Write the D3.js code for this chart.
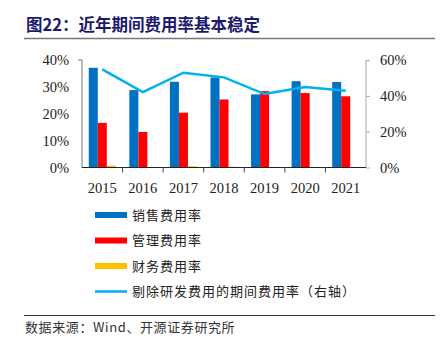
<!DOCTYPE html>
<html>
<head>
<meta charset="utf-8">
<script src="https://cdn.jsdelivr.net/npm/d3@7"></script>
<style>
  body { margin: 0; background: #fff; }
  svg { display: block; }
  .tick text { font-family: "Liberation Serif", serif; font-size: 14.5px; fill: #222; }
  .cjk { font-family: "Noto Sans CJK SC", sans-serif; }
</style>
</head>
<body>
<div id="chart"></div>
<script>
// --- data ---
const years = ["2015", "2016", "2017", "2018", "2019", "2020", "2021"];
const salesRate = [37.1, 28.8, 31.9, 33.5, 27.2, 32.1, 31.8];
const adminRate = [16.6, 13.2, 20.4, 25.3, 28.4, 27.7, 26.5];
const financeRate = [0.7, 0.1, 0.5, 0.3, 0.2, 0.2, 0.1];
const exRdRate = [54.8, 42.1, 52.9, 50.3, 41.0, 44.9, 42.8];
const leftTicks = [0, 10, 20, 30, 40];
const rightTicks = [0, 20, 40, 60];

const barSeries = [
  { name: "销售费用率", values: salesRate, color: "#0070C0" },
  { name: "管理费用率", values: adminRate, color: "#FF0000" },
  { name: "财务费用率", values: financeRate, color: "#FFC000" }
];
const lineSeries = { name: "剔除研发费用的期间费用率（右轴）", values: exRdRate, color: "#00B0F0" };

const W = 448, H = 345;
const plot = { left: 82, right: 366, top: 60, bottom: 167.5 };

const svg = d3.select("#chart").append("svg").attr("width", W).attr("height", H);

// title + rules
svg.append("text").attr("class", "cjk")
  .attr("x", 26).attr("y", 31)
  .attr("font-size", 16.5).attr("font-weight", "bold").attr("fill", "#1B1A6E")
  .text("图22：近年期间费用率基本稳定");
svg.append("line").attr("x1", 24).attr("x2", 435).attr("y1", 38.5).attr("y2", 38.5)
  .attr("stroke", "#777").attr("stroke-width", 1.5);
svg.append("line").attr("x1", 24).attr("x2", 435).attr("y1", 315.5).attr("y2", 315.5)
  .attr("stroke", "#333").attr("stroke-width", 1);
svg.append("text").attr("class", "cjk")
  .attr("x", 25).attr("y", 332)
  .attr("font-size", 13).attr("fill", "#333").attr("letter-spacing", 0.6)
  .text("数据来源：Wind、开源证券研究所");

// scales
const x = d3.scaleBand().domain(years).range([plot.left, plot.right]);
const xInner = d3.scaleBand().domain(barSeries.map(s => s.name))
  .range([0, x.bandwidth()]).paddingOuter(0.75);
const yL = d3.scaleLinear().domain([0, 40]).range([plot.bottom, plot.top]);
const yR = d3.scaleLinear().domain([0, 60]).range([plot.bottom, plot.top]);

// bars
barSeries.forEach(s => {
  svg.append("g").selectAll("rect").data(s.values).enter().append("rect")
    .attr("x", (d, i) => x(years[i]) + xInner(s.name))
    .attr("width", xInner.bandwidth())
    .attr("y", d => yL(d))
    .attr("height", d => yL(0) - yL(d))
    .attr("fill", s.color);
});

// axes
const gL = svg.append("g").attr("transform", `translate(${plot.left},0)`)
  .call(d3.axisLeft(yL).tickValues(leftTicks).tickFormat(d => d + "%").tickSize(0).tickPadding(13));
gL.select(".domain").attr("stroke", "#777").attr("d", `M0,${plot.top}V${plot.bottom}`);
gL.append("line").attr("x1", -4).attr("x2", 0).attr("y1", plot.top).attr("y2", plot.top).attr("stroke", "#777");

const gR = svg.append("g").attr("transform", `translate(${plot.right},0)`)
  .call(d3.axisRight(yR).tickValues(rightTicks).tickFormat(d => d + "%").tickSize(4).tickPadding(10));
gR.select(".domain").attr("stroke", "#aaa").attr("d", `M0,${plot.top}V${plot.bottom}`);
gR.selectAll(".tick line").attr("stroke", "#aaa");

const gX = svg.append("g").attr("transform", `translate(0,${plot.bottom})`)
  .call(d3.axisBottom(x).tickSize(0).tickPadding(15));
gX.select(".domain").attr("stroke", "#222").attr("d", `M${plot.left},0H${plot.right}`);
gX.selectAll(".bnd").data(years.slice(1)).enter().append("line")
  .attr("x1", d => x(d)).attr("x2", d => x(d)).attr("y1", 0).attr("y2", 5)
  .attr("stroke", "#444");

// line
const line = d3.line().x((d, i) => x(years[i]) + x.bandwidth() / 2).y(d => yR(d));
svg.append("path").datum(lineSeries.values)
  .attr("d", line).attr("fill", "none")
  .attr("stroke", lineSeries.color).attr("stroke-width", 2.5);

// legend
const legendItems = barSeries.map(s => ({ name: s.name, color: s.color, h: 6 }))
  .concat([{ name: lineSeries.name, color: lineSeries.color, h: 2.5 }]);
const lg = svg.append("g").selectAll("g").data(legendItems).enter().append("g")
  .attr("transform", (d, i) => `translate(95,${215 + i * 25.5})`);
lg.append("rect").attr("x", 0).attr("y", d => -d.h / 2).attr("width", 32).attr("height", d => d.h)
  .attr("fill", d => d.color);
lg.append("text").attr("class", "cjk").attr("x", 37).attr("y", 4.5)
  .attr("font-size", 13).attr("letter-spacing", 1).attr("fill", "#222")
  .text(d => d.name);
</script>
</body>
</html>
